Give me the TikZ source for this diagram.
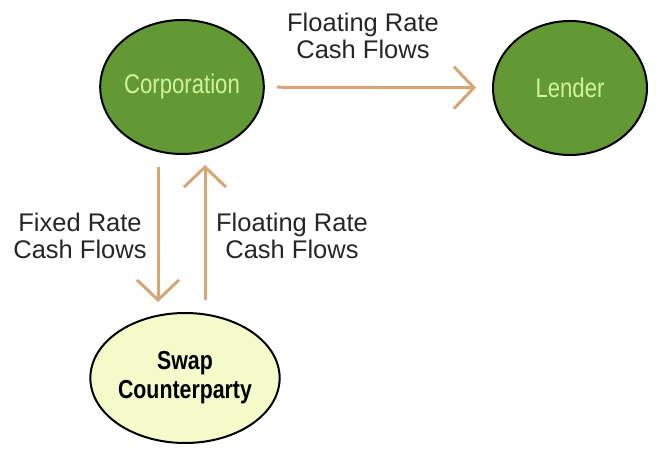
\documentclass[tikz,border=0pt]{standalone}
\usepackage{fontspec}
\setmainfont{Liberation Sans}
\newfontfamily\narrowfont[FakeStretch=0.82]{Liberation Sans}
\usepackage{xcolor}
\usetikzlibrary{arrows.meta,positioning,shapes.geometric}
\tikzset{%
  tipA/.tip={Straight Barb[length=20pt,width=42pt]},
}
\definecolor{leafgreen}{RGB}{98,153,52}
\definecolor{paleleaf}{RGB}{208,244,156}
\definecolor{paleyellow}{RGB}{244,250,202}
\definecolor{tanline}{RGB}{214,166,118}
\definecolor{labelgray}{RGB}{38,38,38}

\begin{document}
\begin{tikzpicture}[x=1pt,y=1pt,
  party/.style={ellipse, draw=black, line width=2pt, inner sep=0pt, align=center},
  flow/.style={color=tanline, line width=3pt, -tipA},
  flowtext/.style={align=center, text=labelgray, font=\fontsize{25.5}{27}\selectfont}]
\useasboundingbox (0,0) rectangle (656,452);
% the three parties
\node[party, fill=leafgreen, minimum width=158pt, minimum height=134pt, text=paleleaf,
      font=\narrowfont\fontsize{27}{29}\selectfont] (corp) at (182,365) {Corporation};
\node[party, fill=leafgreen, minimum width=154pt, minimum height=134pt, text=paleleaf,
      font=\narrowfont\fontsize{27}{29}\selectfont] (lender) at (570,364) {Lender};
\node[party, fill=paleyellow, minimum width=154pt, minimum height=130pt, text=black,
      font=\narrowfont\bfseries\fontsize{26}{29}\selectfont] (swap) at (185,74) {Swap\\Counterparty};
% cash flows
\draw[flow, shorten <=12pt, shorten >=16pt] (corp) -- (lender);
\draw[flow, shorten <=12pt, shorten >=10pt] ([xshift=-24pt]corp.south) -- ([xshift=-27pt]swap.north);
\draw[flow, shorten <=12pt, shorten >=10pt] ([xshift=20pt]swap.north) -- ([xshift=23pt]corp.south);
\node[flowtext] (toplender) at (363,416) {Floating Rate\\Cash Flows};
\node[flowtext] (toswap) at (80,216) {Fixed Rate\\Cash Flows};
\node[flowtext] (tocorp) at (292,216) {Floating Rate\\Cash Flows};
\end{tikzpicture}
\end{document}
